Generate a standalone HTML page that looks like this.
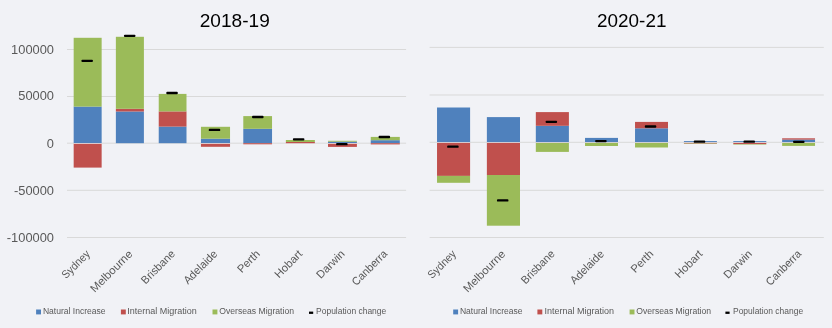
<!DOCTYPE html>
<html><head><meta charset="utf-8"><style>
html,body{margin:0;padding:0;background:#F1F2F6;width:832px;height:328px;overflow:hidden}
svg{display:block;will-change:transform;font-family:"Liberation Sans",sans-serif}
</style></head><body>
<svg width="832" height="328" viewBox="0 0 832 328" font-family="Liberation Sans, sans-serif">
<rect width="832" height="328" fill="#F1F2F6"/>
<text x="234.75" y="27.2" text-anchor="middle" font-size="18.6" textLength="70.0" lengthAdjust="spacingAndGlyphs" fill="#000">2018-19</text>
<text x="631.75" y="27.2" text-anchor="middle" font-size="18.6" textLength="69.4" lengthAdjust="spacingAndGlyphs" fill="#000">2020-21</text>
<text x="54" y="54.0" text-anchor="end" font-size="12.4" textLength="42.91" lengthAdjust="spacingAndGlyphs" fill="#595959">100000</text><text x="54" y="99.9" text-anchor="end" font-size="12.4" textLength="35.76" lengthAdjust="spacingAndGlyphs" fill="#595959">50000</text><text x="54" y="148.0" text-anchor="end" font-size="12.4" textLength="7.15" lengthAdjust="spacingAndGlyphs" fill="#595959">0</text><text x="54" y="195.3" text-anchor="end" font-size="12.4" textLength="40.04" lengthAdjust="spacingAndGlyphs" fill="#595959">-50000</text><text x="54" y="241.8" text-anchor="end" font-size="12.4" textLength="47.19" lengthAdjust="spacingAndGlyphs" fill="#595959">-100000</text>
<line x1="67.0" y1="49.5" x2="406.1" y2="49.5" stroke="#D9D9D9" stroke-width="1"/>
<line x1="67.0" y1="96.5" x2="406.1" y2="96.5" stroke="#D9D9D9" stroke-width="1"/>
<line x1="67.0" y1="143.2" x2="406.1" y2="143.2" stroke="#D9D9D9" stroke-width="1"/>
<line x1="67.0" y1="190.3" x2="406.1" y2="190.3" stroke="#D9D9D9" stroke-width="1"/>
<line x1="67.0" y1="237.5" x2="406.1" y2="237.5" stroke="#D9D9D9" stroke-width="1"/>
<rect x="73.67" y="106.60" width="27.98" height="36.60" fill="#4F81BD"/>
<rect x="73.67" y="37.80" width="27.98" height="68.80" fill="#9BBB59"/>
<rect x="73.67" y="143.75" width="27.98" height="23.85" fill="#C0504D"/>
<rect x="73.67" y="143.20" width="27.98" height="0.55" fill="#EEDFDF"/>
<rect x="115.87" y="111.50" width="28.03" height="31.70" fill="#4F81BD"/>
<rect x="115.87" y="108.80" width="28.03" height="2.70" fill="#C0504D"/>
<rect x="115.87" y="36.80" width="28.03" height="72.00" fill="#9BBB59"/>
<rect x="158.73" y="126.60" width="27.77" height="16.60" fill="#4F81BD"/>
<rect x="158.73" y="111.40" width="27.77" height="15.20" fill="#C0504D"/>
<rect x="158.73" y="93.90" width="27.77" height="17.50" fill="#9BBB59"/>
<rect x="200.95" y="138.70" width="29.09" height="4.50" fill="#4F81BD"/>
<rect x="200.95" y="126.80" width="29.09" height="11.90" fill="#9BBB59"/>
<rect x="200.95" y="143.75" width="29.09" height="3.05" fill="#C0504D"/>
<rect x="200.95" y="143.20" width="29.09" height="0.55" fill="#EEDFDF"/>
<rect x="243.29" y="128.80" width="28.75" height="14.40" fill="#4F81BD"/>
<rect x="243.29" y="116.10" width="28.75" height="12.70" fill="#9BBB59"/>
<rect x="243.29" y="143.20" width="28.75" height="1.10" fill="#C0504D"/>
<rect x="285.87" y="142.00" width="28.99" height="1.20" fill="#C0504D"/>
<rect x="285.87" y="140.00" width="28.99" height="2.00" fill="#9BBB59"/>
<rect x="328.00" y="141.70" width="28.90" height="1.50" fill="#4F81BD"/>
<rect x="328.00" y="140.80" width="28.90" height="0.90" fill="#9BBB59"/>
<rect x="328.00" y="143.75" width="28.90" height="3.15" fill="#C0504D"/>
<rect x="328.00" y="143.20" width="28.90" height="0.55" fill="#EEDFDF"/>
<rect x="370.75" y="140.20" width="29.05" height="3.00" fill="#4F81BD"/>
<rect x="370.75" y="136.90" width="29.05" height="3.30" fill="#9BBB59"/>
<rect x="370.75" y="143.20" width="29.05" height="1.20" fill="#C0504D"/>
<rect x="81.42" y="59.65" width="11.5" height="2.3" rx="0.9" fill="#000"/>
<rect x="123.95" y="34.65" width="11.5" height="2.3" rx="0.9" fill="#000"/>
<rect x="166.30" y="91.85" width="11.5" height="2.3" rx="0.9" fill="#000"/>
<rect x="208.75" y="128.75" width="11.5" height="2.3" rx="0.9" fill="#000"/>
<rect x="252.05" y="115.85" width="11.5" height="2.3" rx="0.9" fill="#000"/>
<rect x="292.90" y="138.15" width="11.5" height="2.3" rx="0.9" fill="#000"/>
<rect x="336.10" y="143.05" width="11.5" height="2.3" rx="0.9" fill="#000"/>
<rect x="378.60" y="135.85" width="11.5" height="2.3" rx="0.9" fill="#000"/>
<line x1="429.6" y1="47.4" x2="823.8" y2="47.4" stroke="#D9D9D9" stroke-width="1"/>
<line x1="429.6" y1="95.0" x2="823.8" y2="95.0" stroke="#D9D9D9" stroke-width="1"/>
<line x1="429.6" y1="142.3" x2="823.8" y2="142.3" stroke="#D9D9D9" stroke-width="1"/>
<line x1="429.6" y1="190.3" x2="823.8" y2="190.3" stroke="#D9D9D9" stroke-width="1"/>
<line x1="429.6" y1="237.5" x2="823.8" y2="237.5" stroke="#D9D9D9" stroke-width="1"/>
<rect x="437.03" y="107.50" width="33.07" height="34.80" fill="#4F81BD"/>
<rect x="437.03" y="142.85" width="33.07" height="33.05" fill="#C0504D"/>
<rect x="437.03" y="175.90" width="33.07" height="6.90" fill="#9BBB59"/>
<rect x="437.03" y="142.30" width="33.07" height="0.55" fill="#EEDFDF"/>
<rect x="486.87" y="117.10" width="33.13" height="25.20" fill="#4F81BD"/>
<rect x="486.87" y="142.85" width="33.13" height="32.15" fill="#C0504D"/>
<rect x="486.87" y="175.00" width="33.13" height="50.70" fill="#9BBB59"/>
<rect x="486.87" y="142.30" width="33.13" height="0.55" fill="#EEDFDF"/>
<rect x="535.82" y="125.80" width="33.08" height="16.50" fill="#4F81BD"/>
<rect x="535.82" y="112.10" width="33.08" height="13.70" fill="#C0504D"/>
<rect x="535.82" y="142.85" width="33.08" height="9.05" fill="#9BBB59"/>
<rect x="535.82" y="142.30" width="33.08" height="0.55" fill="#EEDFDF"/>
<rect x="585.03" y="137.90" width="32.97" height="4.40" fill="#4F81BD"/>
<rect x="585.03" y="142.85" width="32.97" height="3.15" fill="#9BBB59"/>
<rect x="585.03" y="142.30" width="32.97" height="0.55" fill="#EEDFDF"/>
<rect x="635.03" y="128.30" width="32.97" height="14.00" fill="#4F81BD"/>
<rect x="635.03" y="121.90" width="32.97" height="6.40" fill="#C0504D"/>
<rect x="635.03" y="142.85" width="32.97" height="4.65" fill="#9BBB59"/>
<rect x="635.03" y="142.30" width="32.97" height="0.55" fill="#EEDFDF"/>
<rect x="683.93" y="141.10" width="32.97" height="1.20" fill="#4F81BD"/>
<rect x="683.93" y="142.85" width="32.97" height="0.75" fill="#C0504D"/>
<rect x="683.93" y="143.60" width="32.97" height="0.40" fill="#9BBB59"/>
<rect x="683.93" y="142.30" width="32.97" height="0.55" fill="#EEDFDF"/>
<rect x="733.30" y="141.10" width="33.00" height="1.20" fill="#4F81BD"/>
<rect x="733.30" y="142.85" width="33.00" height="1.25" fill="#C0504D"/>
<rect x="733.30" y="144.10" width="33.00" height="0.50" fill="#9BBB59"/>
<rect x="733.30" y="142.30" width="33.00" height="0.55" fill="#EEDFDF"/>
<rect x="782.13" y="139.60" width="32.91" height="2.70" fill="#4F81BD"/>
<rect x="782.13" y="138.30" width="32.91" height="1.30" fill="#C0504D"/>
<rect x="782.13" y="142.85" width="32.91" height="3.05" fill="#9BBB59"/>
<rect x="782.13" y="142.30" width="32.91" height="0.55" fill="#EEDFDF"/>
<rect x="447.15" y="145.55" width="11.5" height="2.3" rx="0.9" fill="#000"/>
<rect x="496.95" y="199.25" width="11.5" height="2.3" rx="0.9" fill="#000"/>
<rect x="545.60" y="120.65" width="11.5" height="2.3" rx="0.9" fill="#000"/>
<rect x="595.15" y="139.95" width="11.5" height="2.3" rx="0.9" fill="#000"/>
<rect x="644.80" y="125.35" width="11.5" height="2.3" rx="0.9" fill="#000"/>
<rect x="693.75" y="140.55" width="11.5" height="2.3" rx="0.9" fill="#000"/>
<rect x="743.45" y="140.55" width="11.5" height="2.3" rx="0.9" fill="#000"/>
<rect x="793.05" y="140.65" width="11.5" height="2.3" rx="0.9" fill="#000"/>
<text x="90.72" y="254.6" transform="rotate(-45 90.72 254.6)" text-anchor="end" font-size="11.2" textLength="34.96" lengthAdjust="spacingAndGlyphs" fill="#595959">Sydney</text>
<text x="133.19" y="254.6" transform="rotate(-45 133.19 254.6)" text-anchor="end" font-size="11.2" textLength="54.38" lengthAdjust="spacingAndGlyphs" fill="#595959">Melbourne</text>
<text x="175.65" y="254.6" transform="rotate(-45 175.65 254.6)" text-anchor="end" font-size="11.2" textLength="42.47" lengthAdjust="spacingAndGlyphs" fill="#595959">Brisbane</text>
<text x="218.11" y="254.6" transform="rotate(-45 218.11 254.6)" text-anchor="end" font-size="11.2" textLength="42.74" lengthAdjust="spacingAndGlyphs" fill="#595959">Adelaide</text>
<text x="260.56" y="254.6" transform="rotate(-45 260.56 254.6)" text-anchor="end" font-size="11.2" textLength="26.68" lengthAdjust="spacingAndGlyphs" fill="#595959">Perth</text>
<text x="303.03" y="254.6" transform="rotate(-45 303.03 254.6)" text-anchor="end" font-size="11.2" textLength="34.05" lengthAdjust="spacingAndGlyphs" fill="#595959">Hobart</text>
<text x="345.49" y="254.6" transform="rotate(-45 345.49 254.6)" text-anchor="end" font-size="11.2" textLength="34.94" lengthAdjust="spacingAndGlyphs" fill="#595959">Darwin</text>
<text x="387.95" y="254.6" transform="rotate(-45 387.95 254.6)" text-anchor="end" font-size="11.2" textLength="44.82" lengthAdjust="spacingAndGlyphs" fill="#595959">Canberra</text>
<text x="456.84" y="254.6" transform="rotate(-45 456.84 254.6)" text-anchor="end" font-size="11.2" textLength="34.96" lengthAdjust="spacingAndGlyphs" fill="#595959">Sydney</text>
<text x="506.14" y="254.6" transform="rotate(-45 506.14 254.6)" text-anchor="end" font-size="11.2" textLength="54.38" lengthAdjust="spacingAndGlyphs" fill="#595959">Melbourne</text>
<text x="555.44" y="254.6" transform="rotate(-45 555.44 254.6)" text-anchor="end" font-size="11.2" textLength="42.47" lengthAdjust="spacingAndGlyphs" fill="#595959">Brisbane</text>
<text x="604.74" y="254.6" transform="rotate(-45 604.74 254.6)" text-anchor="end" font-size="11.2" textLength="42.74" lengthAdjust="spacingAndGlyphs" fill="#595959">Adelaide</text>
<text x="654.04" y="254.6" transform="rotate(-45 654.04 254.6)" text-anchor="end" font-size="11.2" textLength="26.68" lengthAdjust="spacingAndGlyphs" fill="#595959">Perth</text>
<text x="703.34" y="254.6" transform="rotate(-45 703.34 254.6)" text-anchor="end" font-size="11.2" textLength="34.05" lengthAdjust="spacingAndGlyphs" fill="#595959">Hobart</text>
<text x="752.64" y="254.6" transform="rotate(-45 752.64 254.6)" text-anchor="end" font-size="11.2" textLength="34.94" lengthAdjust="spacingAndGlyphs" fill="#595959">Darwin</text>
<text x="801.94" y="254.6" transform="rotate(-45 801.94 254.6)" text-anchor="end" font-size="11.2" textLength="44.82" lengthAdjust="spacingAndGlyphs" fill="#595959">Canberra</text>
<rect x="36.1" y="309.5" width="4.9" height="4.9" fill="#4F81BD"/>
<text x="42.9" y="314.0" font-size="8.5" textLength="62.72" lengthAdjust="spacingAndGlyphs" fill="#595959">Natural Increase</text>
<rect x="120.9" y="309.5" width="4.9" height="4.9" fill="#C0504D"/>
<text x="127.3" y="314.0" font-size="8.5" textLength="69.55" lengthAdjust="spacingAndGlyphs" fill="#595959">Internal Migration</text>
<rect x="212.5" y="309.5" width="4.9" height="4.9" fill="#9BBB59"/>
<text x="219.2" y="314.0" font-size="8.5" textLength="74.83" lengthAdjust="spacingAndGlyphs" fill="#595959">Overseas Migration</text>
<rect x="309.0" y="311.6" width="4.2" height="2.3" fill="#000"/>
<text x="316.1" y="314.0" font-size="8.5" textLength="70.13" lengthAdjust="spacingAndGlyphs" fill="#595959">Population change</text>
<rect x="453.2" y="309.5" width="4.9" height="4.9" fill="#4F81BD"/>
<text x="459.9" y="314.0" font-size="8.5" textLength="62.72" lengthAdjust="spacingAndGlyphs" fill="#595959">Natural Increase</text>
<rect x="537.4" y="309.5" width="4.9" height="4.9" fill="#C0504D"/>
<text x="544.5" y="314.0" font-size="8.5" textLength="69.55" lengthAdjust="spacingAndGlyphs" fill="#595959">Internal Migration</text>
<rect x="629.6" y="309.5" width="4.9" height="4.9" fill="#9BBB59"/>
<text x="636.3" y="314.0" font-size="8.5" textLength="74.83" lengthAdjust="spacingAndGlyphs" fill="#595959">Overseas Migration</text>
<rect x="725.4" y="311.6" width="4.2" height="2.3" fill="#000"/>
<text x="733.0" y="314.0" font-size="8.5" textLength="70.13" lengthAdjust="spacingAndGlyphs" fill="#595959">Population change</text>
</svg>
</body></html>
